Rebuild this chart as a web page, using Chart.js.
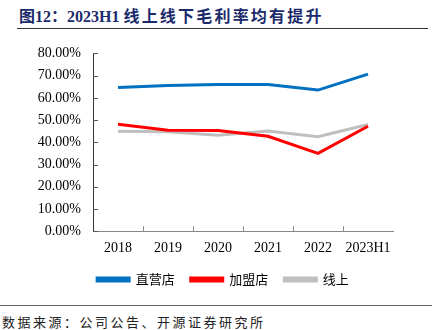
<!DOCTYPE html>
<html>
<head>
<meta charset="utf-8">
<script src="https://cdn.jsdelivr.net/npm/chart.js@4.4.1/dist/chart.umd.min.js"></script>
<style>
  body { margin: 0; background: #fff; }
  #wrap { position: relative; width: 438px; height: 330px; overflow: hidden; }
  #title { position: absolute; left: 19px; top: 3px; font: bold 16px "Liberation Serif", "Noto Sans CJK SC", serif; color: #1b2a6b; white-space: nowrap; }
  #title .cn { font-family: "Noto Sans CJK SC", sans-serif; letter-spacing: 2.2px; }
  #topline { position: absolute; left: 17px; top: 28px; width: 411px; height: 1px; background: #333; }
  #botline { position: absolute; left: 0; top: 305px; width: 432px; height: 1px; background: #666; }
  #source { position: absolute; left: 2px; top: 312px; font: 13px "Noto Sans CJK SC", sans-serif; color: #222; letter-spacing: 2.5px; white-space: nowrap; }
  #chartBox { position: absolute; left: 0; top: 33px; width: 438px; height: 263px; }
</style>
</head>
<body>
<div id="wrap">
  <div id="title">图12：2023H1 <span class="cn">线上线下毛利率均有提升</span></div>
  <div id="topline"></div>
  <div id="chartBox"><canvas id="marginChart"></canvas></div>
  <div id="botline"></div>
  <div id="source">数据来源：公司公告、开源证券研究所</div>
</div>
<script>
// Categories and series (gross margin, %)
const years = ['2018', '2019', '2020', '2021', '2022', '2023H1'];
const directStores = [64.7, 65.6, 66.0, 66.0, 63.5, 70.7];
const franchiseStores = [48.1, 45.4, 45.3, 42.7, 35.0, 47.2];
const onlineSales = [45.0, 44.8, 43.2, 45.1, 42.5, 48.0];

// Draw short tick marks pointing into the plot, like the original
const innerTicks = {
    id: 'innerTicks',
    afterLayout(chart) {
        // centre the legend on the whole canvas, not just the padded area
        chart.legend.left = 8;
        chart.legend.right = chart.width;
    },
    afterDatasetsDraw(chart) {
        const ctx = chart.ctx;
        const x = chart.scales.x;
        const y = chart.scales.y;
        ctx.save();
        ctx.lineWidth = 1;
        ctx.strokeStyle = '#555';
        y.ticks.forEach((t, i) => {
            const py = Math.round(y.getPixelForTick(i)) + 0.5;
            ctx.beginPath();
            ctx.moveTo(x.left, py);
            ctx.lineTo(x.left + 5, py);
            ctx.stroke();
        });
        ctx.strokeStyle = '#888';
        for (let i = 1; i < years.length; i++) {
            const px = Math.round((x.getPixelForValue(i - 1) + x.getPixelForValue(i)) / 2) + 0.5;
            ctx.beginPath();
            ctx.moveTo(px, y.bottom);
            ctx.lineTo(px, y.bottom - 5);
            ctx.stroke();
        }
        ctx.restore();
    }
};

const ctx = document.getElementById('marginChart').getContext('2d');
new Chart(ctx, {
    type: 'line',
    data: {
        labels: years,
        datasets: [
            { label: '直营店', data: directStores, borderColor: '#0070C0', backgroundColor: '#0070C0' },
            { label: '加盟店', data: franchiseStores, borderColor: '#FF0000', backgroundColor: '#FF0000' },
            { label: '线上', data: onlineSales, borderColor: '#BFBFBF', backgroundColor: '#BFBFBF' }
        ]
    },
    options: {
        responsive: true,
        maintainAspectRatio: false,
        animation: false,
        elements: {
            line: { borderWidth: 3, tension: 0 },
            point: { radius: 0 }
        },
        layout: { padding: { left: 0, right: 45, top: 5, bottom: 0 } },
        scales: {
            x: {
                offset: true,
                grid: { display: false, drawTicks: false },
                border: { color: '#888', width: 1 },
                ticks: { color: '#000', font: { family: 'Liberation Serif', size: 14 }, padding: 9, maxRotation: 0 }
            },
            y: {
                min: 0,
                max: 80,
                afterFit(scale) { scale.width = 93; },
                grid: { display: false, drawTicks: false },
                border: { color: '#333', width: 1 },
                ticks: {
                    stepSize: 10,
                    color: '#000',
                    padding: 12,
                    font: { family: 'Liberation Serif', size: 14 },
                    callback: v => v.toFixed(2) + '%'
                }
            }
        },
        plugins: {
            legend: {
                position: 'bottom',
                labels: {
                    boxWidth: 32,
                    boxHeight: 3,
                    padding: 7,
                    color: '#000',
                    font: { family: 'Noto Sans CJK SC', size: 13 },
                    generateLabels(chart) {
                        const items = Chart.defaults.plugins.legend.labels.generateLabels(chart);
                        // a little extra room after each entry, except the last
                        items.forEach((it, i) => { if (i < items.length - 1) it.text += '\u2002\u2009'; });
                        return items;
                    }
                }
            },
            tooltip: { enabled: false }
        }
    },
    plugins: [innerTicks]
});
</script>
</body>
</html>
